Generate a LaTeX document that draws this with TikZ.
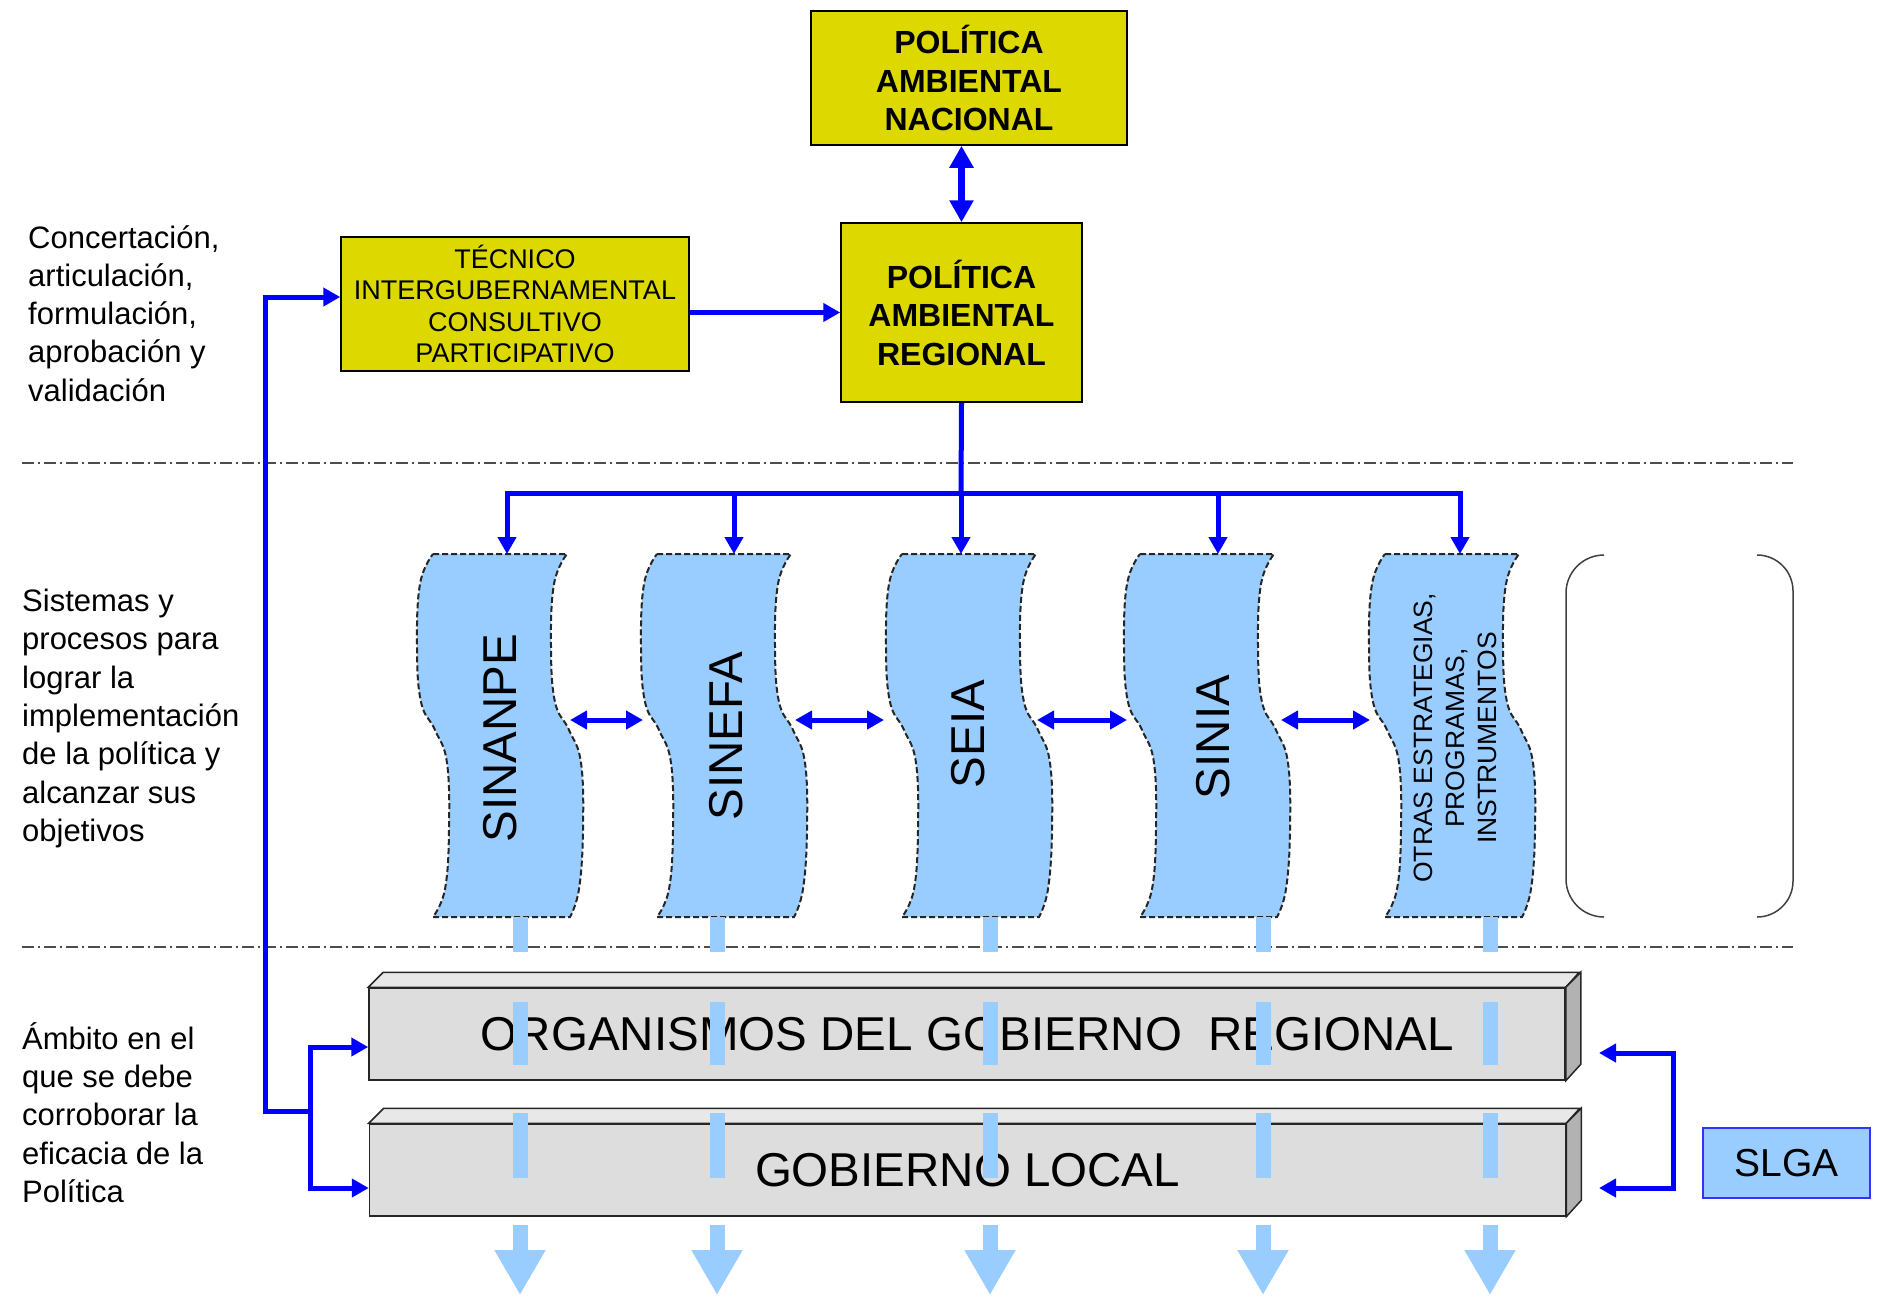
\documentclass[tikz,border=0pt]{standalone}
\usepackage{fontspec}
\setmainfont{Liberation Sans}
\usetikzlibrary{arrows.meta}
\definecolor{polyellow}{RGB}{221,216,0}
\definecolor{sysblue}{RGB}{153,204,255}
\definecolor{linkblue}{RGB}{0,0,255}
\definecolor{faceg}{RGB}{221,221,221}
\definecolor{topg}{RGB}{232,232,232}
\definecolor{sideg}{RGB}{178,178,178}
\begin{document}
\begin{tikzpicture}[x=1pt,y=-1pt,
  polbox/.style={draw=black,line width=1.5pt,fill=polyellow,align=center,inner sep=0pt},
  link/.style={draw=linkblue,line width=5pt,>={Triangle[length=17pt,width=18pt]}},
  sepline/.style={draw=black!70,line width=1.5pt,dash pattern=on 12pt off 4pt on 2pt off 4pt},
  wave/.style={fill=sysblue,draw=black!85,line width=2pt,dash pattern=on 6pt off 3pt},
  syslabel/.style={rotate=90,inner sep=0pt,font=\fontsize{47.5}{57}\selectfont},
  sidetext/.style={align=left,inner sep=0pt,font=\fontsize{31}{38.3}\selectfont},
  govbox/.style={draw=black!85,line width=1.5pt,fill=faceg,inner sep=0pt,minimum width=1196pt,minimum height=92pt,font=\fontsize{47.5}{57}\selectfont},
  bar/.style={draw=sysblue,line width=15pt},
  paren/.style={draw=black!75,line width=1.5pt}]
\useasboundingbox (0,0) rectangle (1878,1296);
\draw[sepline] (22,463) -- (1793,463);
\draw[sepline] (22,947) -- (1793,947);

\node[sidetext,anchor=north west] (conc) at (28,225) {Concertación,\\articulación,\\formulación,\\aprobación y\\validación};
\node[sidetext,anchor=north west] (sist) at (22,589) {Sistemas y\\procesos para\\lograr la\\implementación\\de la política y\\alcanzar sus\\objetivos};
\node[sidetext,anchor=north west] (ambito) at (22,1022) {Ámbito en el\\que se debe\\corroborar la\\eficacia de la\\Política};

\node[polbox,minimum width=316pt,minimum height=134pt,font=\bfseries\fontsize{32}{38.5}\selectfont] (pan) at (969,78) {POLÍTICA\\AMBIENTAL\\NACIONAL};
\node[polbox,minimum width=241pt,minimum height=179pt,font=\bfseries\fontsize{32}{38.5}\selectfont] (par) at (961.5,312.5) {POLÍTICA\\AMBIENTAL\\REGIONAL};
\node[polbox,minimum width=348pt,minimum height=134pt,font=\fontsize{27}{31.5}\selectfont] (tic) at (515,304) {TÉCNICO\\INTERGUBERNAMENTAL\\CONSULTIVO\\PARTICIPATIVO};

\draw[link,line width=6.5pt,<->,>={Triangle[length=22pt,width=23pt]}] (par.north) -- (par.north |- pan.south);
\draw[link,->] (tic.east |- par.west) -- (par.west);

\foreach \wx in {433,657,902,1140,1385}
  \filldraw[wave,shift={(\wx,554)}] (0,0) -- (134,0) -- plot[smooth,tension=.7] coordinates {(134,0) (121,30) (118,93) (122,148) (136,176) (148,209) (150,276) (146,335) (137,363)} -- (0,363) -- plot[smooth,tension=.7] coordinates {(0,363) (12,335) (16,276) (14,209) (2,176) (-12,148) (-16,93) (-13,30) (0,0)} -- cycle;

\node[syslabel] (sinanpe) at (500,738) {SINANPE};
\node[syslabel] (sinefa) at (726,736) {SINEFA};
\node[syslabel] (seia) at (968,734) {SEIA};
\node[syslabel] (sinia) at (1213,737) {SINIA};
\node[syslabel,align=center,font=\fontsize{26.5}{32}\selectfont] (otras) at (1455,738) {OTRAS ESTRATEGIAS,\\PROGRAMAS,\\INSTRUMENTOS};

\draw[paren,rounded corners=38pt] (1604,555) -- (1566,555) -- (1566,917) -- (1604,917);
\draw[paren,rounded corners=36pt] (1757,555) -- (1793,555) -- (1793,917) -- (1757,917);

\coordinate (bus) at (961,493);
\coordinate (t1) at (507,554);
\coordinate (t2) at (734,554);
\coordinate (t3) at (961,554);
\coordinate (t4) at (1218,554);
\coordinate (t5) at (1460,554);
\draw[link] (par.south) -- (bus);
\draw[link,->] (bus) -| (t1);
\draw[link,->] (bus) -| (t2);
\draw[link,->] (bus) -- (t3);
\draw[link,->] (bus) -| (t4);
\draw[link,->] (bus) -| (t5);

\coordinate (a1) at (570,720);
\coordinate (b1) at (643,720);
\coordinate (a2) at (795,720);
\coordinate (b2) at (884,720);
\coordinate (a3) at (1037,720);
\coordinate (b3) at (1127,720);
\coordinate (a4) at (1281,720);
\coordinate (b4) at (1370,720);
\draw[link,<->] (a1) -- (b1);
\draw[link,<->] (a2) -- (b2);
\draw[link,<->] (a3) -- (b3);
\draw[link,<->] (a4) -- (b4);

\node[govbox] (orgreg) at (967,1034) {ORGANISMOS DEL GOBIERNO\ \ REGIONAL};
\filldraw[draw=black!85,line width=1.5pt,fill=topg] (orgreg.north west) -- ++(15,-15) -- ++(1196,0) -- (orgreg.north east) -- cycle;
\filldraw[draw=black!85,line width=1.5pt,fill=sideg] (orgreg.north east) -- ++(15,-15) -- ++(0,92) -- (orgreg.south east) -- cycle;
\node[govbox] (gobloc) at (967.5,1170) {GOBIERNO LOCAL};
\filldraw[draw=black!85,line width=1.5pt,fill=topg] (gobloc.north west) -- ++(15,-15) -- ++(1196,0) -- (gobloc.north east) -- cycle;
\filldraw[draw=black!85,line width=1.5pt,fill=sideg] (gobloc.north east) -- ++(15,-15) -- ++(0,92) -- (gobloc.south east) -- cycle;

\foreach \bx in {520,717,990,1263,1490}{
  \draw[bar] (\bx,917) -- (\bx,952);
  \draw[bar] (\bx,1002) -- (\bx,1065);
  \draw[bar] (\bx,1113) -- (\bx,1178);
  \draw[bar,-{Triangle[length=45pt,width=48pt]}] (\bx,1225) -- (\bx,1295);
}

\coordinate (jn) at (310,1111);
\draw[link,->] (jn) -- ++(-45,0) |- ([yshift=7pt]tic.west);
\draw[link,->] (jn) |- ([yshift=-13pt]orgreg.west);
\draw[link,->] (jn) |- ([yshift=-18pt]gobloc.west);

\node[draw=linkblue!80,line width=2pt,fill=sysblue,minimum width=167pt,minimum height=70pt,font=\fontsize{39}{46}\selectfont] (slga) at (1786.5,1163) {SLGA};
\coordinate (sr1) at (1599,1053);
\coordinate (sr2) at (1599,1188);
\draw[link,<->] (sr1) -- ++(74,0) |- (sr2);
\end{tikzpicture}
\end{document}
